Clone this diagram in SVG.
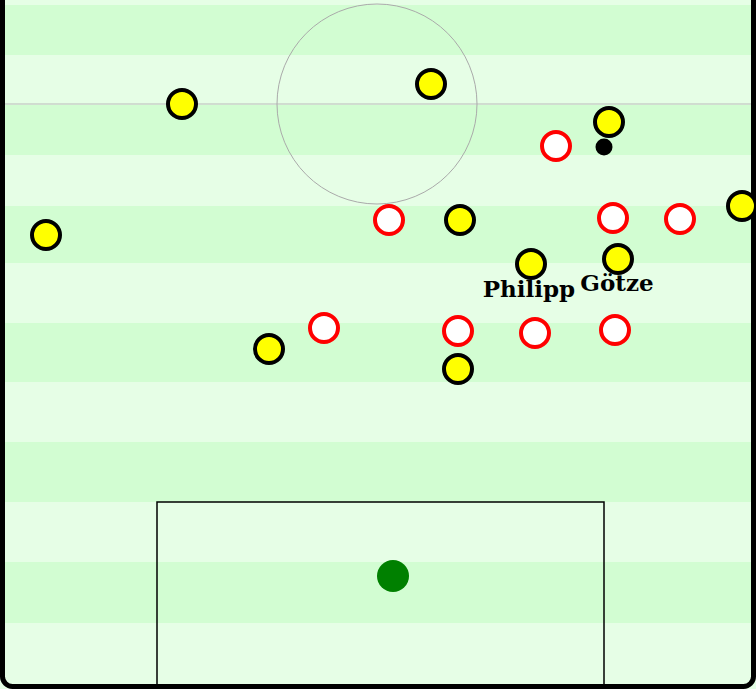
<svg xmlns="http://www.w3.org/2000/svg" width="756" height="689" viewBox="0 0 756 689">
<style>
.dark{fill:#d2fdd2}
.yel{fill:#ffff00;stroke:#000;stroke-width:4}
.red{fill:#fff;stroke:#ff0000;stroke-width:4}
.lbl{font-family:"DejaVu Serif",serif;font-weight:bold;font-size:23px;fill:#000;text-anchor:middle}
</style>
<g id="pitch">
<rect x="0" y="0" width="756" height="689" fill="#e6fee6"/>
<rect class="dark" x="0" y="5" width="756" height="50"/>
<rect class="dark" x="0" y="105" width="756" height="50"/>
<rect class="dark" x="0" y="206" width="756" height="57"/>
<rect class="dark" x="0" y="323" width="756" height="59"/>
<rect class="dark" x="0" y="442" width="756" height="60"/>
<rect class="dark" x="0" y="562" width="756" height="61"/>
<line x1="5" y1="104" x2="751" y2="104" stroke="#bbbbbb" stroke-width="1"/>
<circle cx="377" cy="104" r="100" fill="none" stroke="#aaaaaa" stroke-width="1"/>
<rect x="157" y="502" width="447" height="190" fill="none" stroke="#000" stroke-width="1.5"/>
<circle cx="393" cy="576" r="16" fill="#008000"/>
<rect x="2.5" y="-20" width="751" height="706.5" rx="10" fill="none" stroke="#000" stroke-width="5"/>
</g>
<g id="connectors"></g>
<g id="yellow-players">
<circle id="y1" class="yel" cx="182" cy="104" r="14"/>
<circle id="y2" class="yel" cx="431" cy="84" r="14"/>
<circle id="y3" class="yel" cx="609" cy="122" r="14"/>
<circle id="y4" class="yel" cx="46" cy="235" r="14"/>
<circle id="y5" class="yel" cx="460" cy="220" r="14"/>
<circle id="y6" class="yel" cx="742" cy="206" r="14"/>
<circle id="y7" class="yel" cx="531" cy="264" r="14"/>
<circle id="y8" class="yel" cx="618" cy="259" r="14"/>
<circle id="y9" class="yel" cx="269" cy="349" r="14"/>
<circle id="y10" class="yel" cx="458" cy="369" r="14"/>
</g>
<g id="red-players">
<circle id="r1" class="red" cx="556" cy="146" r="14"/>
<circle id="r2" class="red" cx="389" cy="220" r="14"/>
<circle id="r3" class="red" cx="613" cy="218" r="14"/>
<circle id="r4" class="red" cx="680" cy="219" r="14"/>
<circle id="r5" class="red" cx="324" cy="328" r="14"/>
<circle id="r6" class="red" cx="458" cy="331" r="14"/>
<circle id="r7" class="red" cx="535" cy="333" r="14"/>
<circle id="r8" class="red" cx="615" cy="330" r="14"/>
</g>
<g id="ball"><circle cx="604" cy="147" r="8.5" fill="#000"/></g>
<g id="labels">
<text class="lbl" x="529" y="297">Philipp</text>
<text class="lbl" x="617" y="291">Götze</text>
</g>
</svg>
